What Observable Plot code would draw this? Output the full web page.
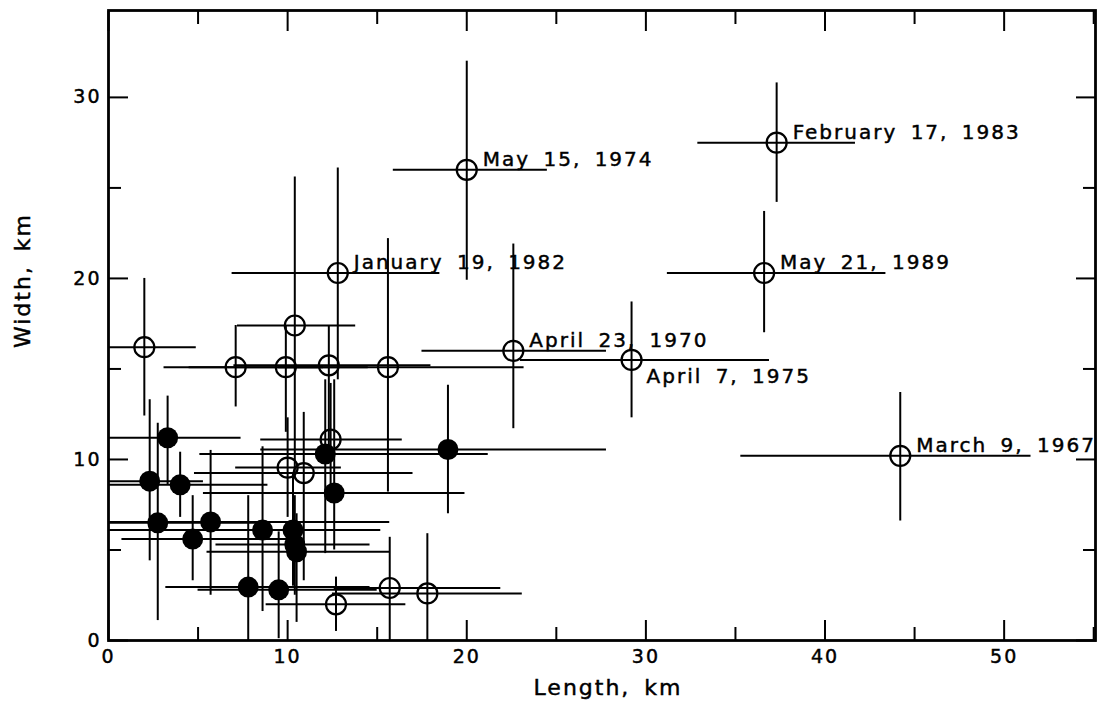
<!DOCTYPE html>
<html><head><meta charset="utf-8">
<script src="https://cdn.jsdelivr.net/npm/d3@7"></script>
<script src="https://cdn.jsdelivr.net/npm/@observablehq/plot@0.6"></script>
<style>
body{margin:0;background:#fff;}
#chart svg{display:block;}
#chart svg text{stroke:#000;stroke-width:0.45px;}
</style></head><body><div id="chart"></div>
<script>
// Event measurements (km): length, width, error ranges, marker type
const lengthKm = [20.0, 37.3, 12.8, 36.6, 22.6, 29.2, 44.2, 2.0, 7.1, 9.9, 12.3, 15.6, 10.4, 12.4, 10.0, 10.9, 12.7, 15.7, 17.8,
                  3.3, 2.3, 4.0, 2.75, 5.7, 4.7, 8.6, 10.3, 10.4, 10.5, 7.8, 9.5, 12.1, 12.6, 18.95];
const widthKm  = [26.0, 27.5, 20.3, 20.3, 16.0, 15.5, 10.2, 16.2, 15.1, 15.1, 15.2, 15.1, 17.4, 11.1, 9.55, 9.25, 2.0, 2.9, 2.6,
                  11.2, 8.8, 8.6, 6.5, 6.55, 5.6, 6.1, 6.1, 5.3, 4.9, 2.95, 2.8, 10.3, 8.15, 10.55];
const lengthLo = [15.9, 32.9, 6.9, 31.2, 17.5, 23.0, 35.3, 0, 3.1, 4.5, 7.0, 9.5, 7.2, 8.5, 7.1, 4.8, 8.8, 12.6, 12.5,
                  0, 0, 0, 0, 0, 0.75, 0, 5.5, 6.0, 5.5, 3.2, 5.0, 5.1, 5.3, 8.5];
const lengthHi = [24.5, 41.7, 18.5, 43.4, 27.8, 36.9, 51.5, 4.9, 12.0, 14.5, 18.0, 23.2, 13.8, 16.4, 13.0, 17.0, 16.6, 21.9, 23.1,
                  7.4, 5.3, 8.9, 9.0, 15.7, 10.5, 13.5, 15.2, 14.6, 15.7, 14.6, 15.0, 21.2, 19.9, 27.8];
const widthLo  = [19.9, 24.2, 14.4, 17.0, 11.7, 12.3, 6.6, 12.4, 12.9, 11.5, 10.0, 8.2, 9.0, 7.8, 6.8, 3.3, 0.5, 0, 0,
                  8.6, 4.4, 6.8, 1.1, 2.5, 3.3, 1.6, 3.0, 2.5, 1.0, 0, 0.1, 4.8, 5.0, 7.0];
const widthHi  = [32.0, 30.8, 26.1, 23.7, 21.9, 18.7, 13.7, 20.0, 17.4, 17.4, 17.4, 22.2, 25.6, 14.2, 12.3, 12.6, 3.5, 5.7, 5.9,
                  13.5, 13.3, 10.4, 12.0, 10.5, 8.0, 10.7, 9.2, 8.0, 7.0, 8.0, 6.0, 14.4, 14.4, 14.1];
const markerType = [..."ooooooooooooooooooo", ..."fffffffffffffff"]; // o = open, f = filled
const eventLabels = ["May 15, 1974", "February 17, 1983", "January 19, 1982", "May 21, 1989",
                     "April 23, 1970", "April 7, 1975", "March 9, 1967"];
const labelSide = ["above", "above", "above", "above", "above", "below", "above"];

const majorX = [0, 10, 20, 30, 40, 50];
const minorX = [5, 15, 25, 35, 45, 55];
const majorY = [0, 10, 20, 30];
const minorY = [5, 15, 25];

const points = lengthKm.map((l, i) => ({
  l, w: widthKm[i], llo: lengthLo[i], lhi: lengthHi[i], wlo: widthLo[i], whi: widthHi[i],
  type: markerType[i], label: eventLabels[i] || null, side: labelSide[i] || null
}));
const open = points.filter(d => d.type === "o");
const filled = points.filter(d => d.type === "f");
const labAbove = points.filter(d => d.label && d.side === "above");
const labBelow = points.filter(d => d.label && d.side === "below");
const blank = () => "";

const plot = Plot.plot({
  width: 1104, height: 715,
  marginLeft: 108, marginRight: 9, marginTop: 10, marginBottom: 75,
  x: {domain: [0, 55.1], label: null},
  y: {domain: [0, 34.8], label: null},
  style: {fontFamily: "'DejaVu Sans', sans-serif", fontSize: "19px", color: "#000", background: "#fff", letterSpacing: "2px", wordSpacing: "5px"},
  marks: [
    Plot.ruleY(points, {y: "w", x1: "llo", x2: "lhi", stroke: "#000", strokeWidth: 2, clip: true}),
    Plot.ruleX(points, {x: "l", y1: "wlo", y2: "whi", stroke: "#000", strokeWidth: 2, clip: true}),
    Plot.dot(open, {x: "l", y: "w", r: 10, stroke: "#000", strokeWidth: 2.2, fill: "none"}),
    Plot.dot(filled, {x: "l", y: "w", r: 10.5, fill: "#000", stroke: "none"}),
    Plot.text(labAbove, {x: "l", y: "w", text: "label", textAnchor: "start", lineAnchor: "bottom", dx: 16, dy: -4, fontSize: 20}),
    Plot.text(labBelow, {x: "l", y: "w", text: "label", textAnchor: "start", lineAnchor: "top", dx: 15, dy: 9, fontSize: 20}),
    Plot.frame({stroke: "#000", strokeWidth: 2.8}),
    // inward ticks on all four sides
    Plot.axisX(majorX, {anchor: "bottom", tickSize: -20, tickFormat: blank, strokeWidth: 2}),
    Plot.axisX(minorX, {anchor: "bottom", tickSize: -13, tickFormat: blank, strokeWidth: 2}),
    Plot.axisX(majorX, {anchor: "top", tickSize: -20, tickFormat: blank, strokeWidth: 2}),
    Plot.axisX(minorX, {anchor: "top", tickSize: -13, tickFormat: blank, strokeWidth: 2}),
    Plot.axisY(majorY, {anchor: "left", tickSize: -20, tickFormat: blank, strokeWidth: 2}),
    Plot.axisY(minorY, {anchor: "left", tickSize: -13, tickFormat: blank, strokeWidth: 2}),
    Plot.axisY(majorY, {anchor: "right", tickSize: -20, tickFormat: blank, strokeWidth: 2}),
    Plot.axisY(minorY, {anchor: "right", tickSize: -13, tickFormat: blank, strokeWidth: 2}),
    // tick labels
    Plot.axisX(majorX, {anchor: "bottom", tickSize: 0, tickPadding: 9, fontSize: 19, label: null}),
    Plot.axisY(majorY, {anchor: "left", tickSize: 0, tickPadding: 7, fontSize: 19, label: null}),
    // axis titles
    Plot.text(["Length, km"], {frameAnchor: "bottom", dx: 6, dy: 39, lineAnchor: "top", textAnchor: "middle", fontSize: 22, wordSpacing: 8}),
    Plot.text(["Width, km"], {frameAnchor: "left", dx: -86, dy: -45, rotate: -90, textAnchor: "middle", fontSize: 22})
  ]
});
document.getElementById("chart").append(plot);
</script></body></html>
